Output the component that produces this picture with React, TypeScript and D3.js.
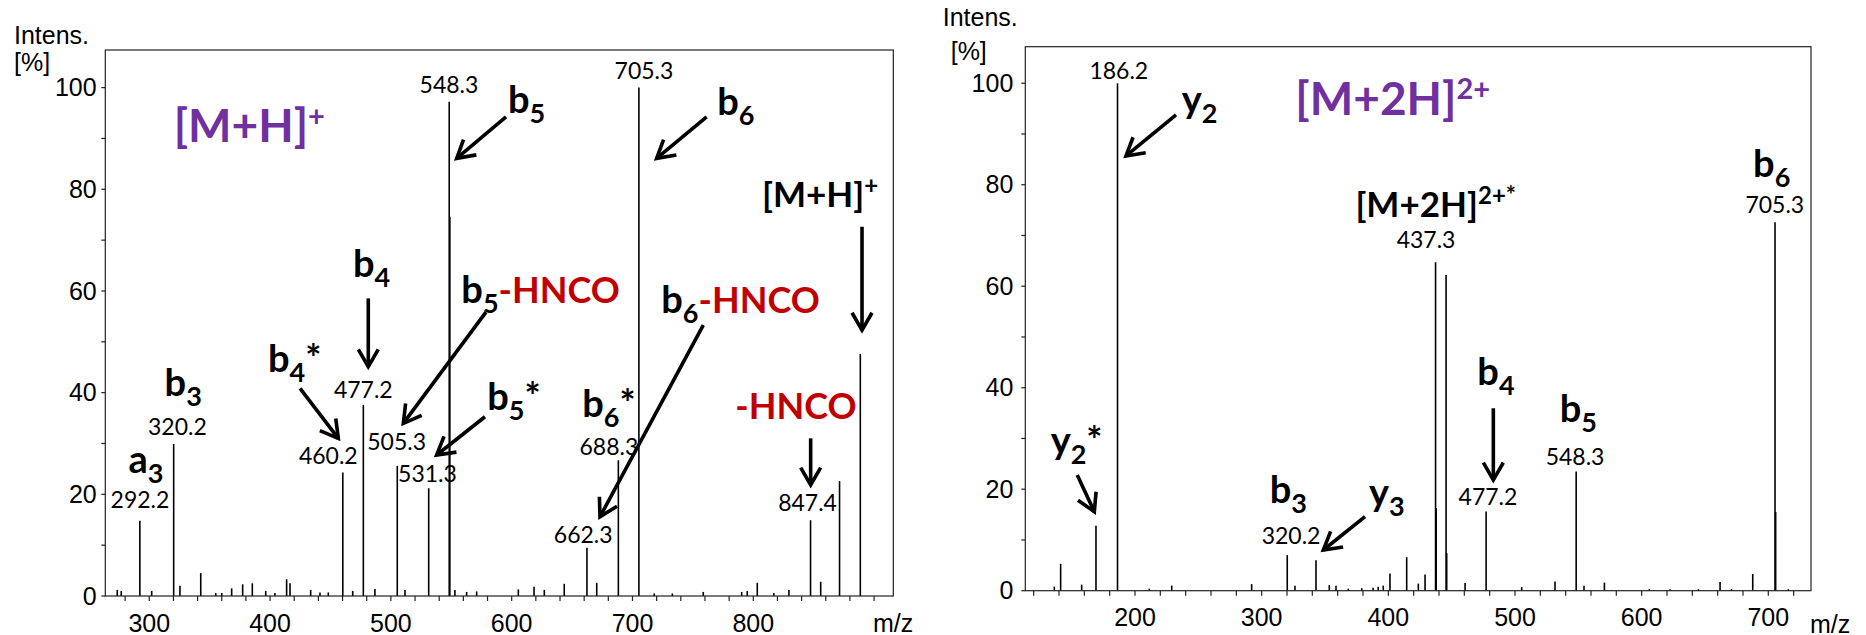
import React from 'react';
import * as d3 from 'd3';

type Peak = [number, number];
type Part = [string, string?, string?];
type IonLabel = { parts: Part[]; mz: number; v: number; kind: 'ion' | 'prec' | 'title' };
type ValueLabel = [string, number, number];
type Arrow = [number, number, number, number];

const PURPLE = '#7030A0';
const RED = '#C00000';

// ---- data: left spectrum ([M+H]+) ----
const leftPeaks: Peak[] = [
  [273.5, 1.2], [276.8, 1.0], [292.2, 14.8], [302.0, 1.0], [320.2, 29.9], [325.4, 2.0],
  [342.6, 4.5], [355.0, 0.6], [360.0, 0.6], [368.2, 1.5], [377.3, 2.3], [385.3, 2.5],
  [396.4, 1.0], [404.0, 0.6], [413.7, 3.3], [416.5, 2.5], [433.6, 1.2], [441.3, 0.7],
  [448.2, 0.7], [460.2, 24.3], [468.4, 1.0], [477.2, 37.6], [486.8, 1.4], [505.3, 25.6],
  [511.7, 1.2], [531.3, 21.2], [548.3, 97.2], [548.8, 74.6], [553.0, 1.2], [562.7, 0.8],
  [571.0, 0.9], [605.5, 1.3], [618.5, 1.8], [627.0, 1.2], [643.5, 2.4], [662.3, 9.5],
  [670.4, 2.6], [688.3, 26.7], [705.3, 100], [718.0, 0.5], [733.0, 0.5], [758.6, 0.8],
  [790.4, 0.8], [795.0, 1.0], [803.3, 2.6], [817.0, 0.6], [829.5, 1.2], [847.4, 14.9],
  [855.8, 2.8], [871.4, 22.6], [888.6, 47.6],
];

// ---- data: right spectrum ([M+2H]2+) ----
const rightPeaks: Peak[] = [
  [136.3, 0.8], [141.3, 5.3], [157.9, 1.2], [169.2, 12.8], [186.2, 100], [211.3, 0.4],
  [229.0, 1.0], [292.1, 1.3], [320.2, 7.0], [326.3, 1.0], [342.9, 6.0], [353.4, 1.1],
  [358.7, 1.0], [368.4, 0.4], [379.0, 0.5], [388.0, 0.6], [392.0, 0.8], [396.0, 1.0],
  [401.3, 3.4], [414.5, 6.6], [423.7, 1.4], [429.0, 3.2], [437.3, 64.7], [437.8, 16.3],
  [445.6, 62.2], [446.1, 7.4], [460.6, 1.5], [477.2, 15.6], [505.3, 0.7], [531.6, 1.8],
  [548.3, 23.5], [554.5, 1.0], [570.6, 1.6], [606.0, 0.3], [622.4, 0.3], [644.8, 0.3],
  [661.9, 1.7], [671.0, 0.3], [687.7, 3.3], [705.3, 72.6], [705.8, 15.5], [715.8, 0.3],
];

const leftXTicks = [300, 400, 500, 600, 700, 800];
const rightXTicks = [200, 300, 400, 500, 600, 700];
const yTickLabels = [0, 20, 40, 60, 80, 100];

const leftValueLabels: ValueLabel[] = [
  ['292.2', 292.3, 17.25], ['320.2', 323.3, 31.66], ['460.2', 448.2, 25.96],
  ['477.2', 477.2, 38.88], ['505.3', 504.8, 28.71], ['531.3', 530.3, 22.48],
  ['548.3', 548.1, 98.86], ['662.3', 659.2, 10.48], ['688.3', 680.5, 27.73],
  ['705.3', 709.5, 101.67], ['847.4', 844.9, 16.77],
];
const rightValueLabels: ValueLabel[] = [
  ['186.2', 187.2, 100.85], ['320.2', 323.2, 9.2], ['437.3', 429.8, 67.48],
  ['477.2', 478.7, 16.89], ['548.3', 547.4, 24.77], ['705.3', 705.1, 74.38],
];

const leftIonLabels: IonLabel[] = [
  { parts: [['a'], ['3', 's']], mz: 282.8, v: 24.1, kind: 'ion' },
  { parts: [['b'], ['3', 's']], mz: 312.7, v: 39.33, kind: 'ion' },
  { parts: [['b'], ['4', 's'], ['*']], mz: 398.3, v: 44.11, kind: 'ion' },
  { parts: [['b'], ['4', 's']], mz: 468.6, v: 62.79, kind: 'ion' },
  { parts: [['b'], ['5', 's']], mz: 596.9, v: 94.93, kind: 'ion' },
  { parts: [['b'], ['5', 's'], ['-HNCO', 'n', RED]], mz: 558.3, v: 57.56, kind: 'ion' },
  { parts: [['b'], ['5', 's'], ['*']], mz: 579.8, v: 36.58, kind: 'ion' },
  { parts: [['b'], ['6', 's']], mz: 770.2, v: 94.59, kind: 'ion' },
  { parts: [['b'], ['6', 's'], ['*']], mz: 658.4, v: 35.26, kind: 'ion' },
  { parts: [['b'], ['6', 's'], ['-HNCO', 'n', RED]], mz: 723.8, v: 55.6, kind: 'ion' },
  { parts: [['-HNCO', 'n', RED]], mz: 785.1, v: 34.75, kind: 'ion' },
  { parts: [['[M+H]'], ['+', 'p']], mz: 807.2, v: 76.56, kind: 'prec' },
  { parts: [['[M+H]', 'm', PURPLE], ['+', 'p', PURPLE]], mz: 320.2, v: 89.34, kind: 'title' },
];
const rightIonLabels: IonLabel[] = [
  { parts: [['y'], ['2', 's']], mz: 236.9, v: 94.15, kind: 'ion' },
  { parts: [['y'], ['2', 's'], ['*']], mz: 133.4, v: 26.84, kind: 'ion' },
  { parts: [['b'], ['3', 's']], mz: 306.4, v: 17.23, kind: 'ion' },
  { parts: [['y'], ['3', 's']], mz: 384.8, v: 16.69, kind: 'ion' },
  { parts: [['b'], ['4', 's']], mz: 470.3, v: 40.54, kind: 'ion' },
  { parts: [['b'], ['5', 's']], mz: 535.3, v: 33.31, kind: 'ion' },
  { parts: [['b'], ['6', 's']], mz: 688.0, v: 81.59, kind: 'ion' },
  { parts: [['[M+2H]'], ['2+*', 'p']], mz: 374.0, v: 73.71, kind: 'prec' },
  { parts: [['[M+2H]', 'm', PURPLE], ['2+', 'p', PURPLE]], mz: 326.6, v: 93.75, kind: 'title' },
];

const leftArrows: Arrow[] = [
  [595.3, 94.26, 554.5, 86.08], [761.4, 94.26, 720.0, 86.08], [890.0, 72.63, 890.0, 52.31],
  [578.7, 55.85, 510.3, 33.96], [481.3, 58.54, 481.3, 45.09], [424.8, 40.85, 456.5, 31.01],
  [577.9, 35.26, 537.9, 27.73], [758.6, 53.29, 673.1, 15.59], [847.5, 31.01, 847.5, 21.83],
];
const rightArrows: Arrow[] = [
  [232.4, 93.75, 192.9, 85.67], [154.4, 22.8, 167.9, 15.57], [381.6, 14.58, 348.7, 8.02],
  [482.9, 35.95, 482.9, 21.82],
];

const AX_FONT = '"Liberation Sans", Arial, sans-serif';
const ANN_FONT = 'Lato, "Open Sans", sans-serif';

const STYLES: Record<string, { size: number; alt: number; sub: number; sup: number; subShift: number; supShift: number }> = {
  ion: { size: 38, alt: 36, sub: 27, sup: 25, subShift: 10, supShift: 13 },
  prec: { size: 35, alt: 35, sub: 25, sup: 24, subShift: 10, supShift: 13 },
  title: { size: 46, alt: 46, sub: 30, sup: 29, subShift: 12, supShift: 16 },
};

function Rich({ x, y, parts, kind }: { x: number; y: number; parts: Part[]; kind: string }) {
  const st = STYLES[kind];
  let cur = 0;
  return (
    <text x={x} y={y} fontFamily={ANN_FONT} fontWeight={700} fontSize={st.size}>
      {parts.map((p, i) => {
        const k = p[1] || 'm';
        const target = k === 's' ? st.subShift : k === 'p' ? -st.supShift : 0;
        const dy = target - cur;
        cur = target;
        const fs = k === 's' ? st.sub : k === 'p' ? st.sup : k === 'n' ? st.alt : st.size;
        return (
          <tspan key={i} dy={dy} fontSize={fs} fill={p[2] || '#000'}>
            {p[0]}
          </tspan>
        );
      })}
    </text>
  );
}

function ArrowMark({ x1, y1, x2, y2 }: { x1: number; y1: number; x2: number; y2: number }) {
  const ang = Math.atan2(y1 - y2, x1 - x2);
  const L = 20;
  const a = (30 * Math.PI) / 180;
  const ax1 = x2 + L * Math.cos(ang + a);
  const ay1 = y2 + L * Math.sin(ang + a);
  const ax2 = x2 + L * Math.cos(ang - a);
  const ay2 = y2 + L * Math.sin(ang - a);
  return (
    <g stroke="#000" strokeWidth={3.6} fill="none" strokeLinejoin="miter">
      <line x1={x1} y1={y1} x2={x2} y2={y2} />
      <path d={`M${ax1},${ay1}L${x2},${y2}L${ax2},${ay2}`} />
    </g>
  );
}

type PanelProps = {
  peaks: Peak[];
  frame: { x0: number; x1: number; y0: number; y1: number };
  xDomain: [number, number];
  yMax: number;
  xTicks: number[];
  minorStart: number;
  valueLabels: ValueLabel[];
  ionLabels: IonLabel[];
  arrows: Arrow[];
  yLabelGap: number;
  xLabelOffset: number;
  intens: { x: number; y: number; x2: number; y2: number };
  mz: { x: number; y: number };
};

function Panel(p: PanelProps) {
  const { frame } = p;
  const x = d3.scaleLinear().domain(p.xDomain).range([frame.x0, frame.x1]);
  const y = d3.scaleLinear().domain([0, p.yMax]).range([frame.y1, frame.y0]);
  const minor = d3.range(p.minorStart, p.xDomain[1], 20);
  const yMinor = d3.range(0, 101, 10);
  return (
    <g>
      <g stroke="#000" strokeWidth={1.6}>
        {p.peaks.map(([m, v], i) => (
          <line key={i} x1={x(m)} x2={x(m)} y1={y(0)} y2={y(v)} />
        ))}
      </g>
      <rect x={frame.x0} y={frame.y0} width={frame.x1 - frame.x0} height={frame.y1 - frame.y0}
        fill="none" stroke="#222" strokeWidth={1.2} />
      <g stroke="#222" strokeWidth={1.2}>
        {yMinor.map((t) => (
          <line key={t} x1={frame.x0 - 4} x2={frame.x0} y1={y(t)} y2={y(t)} />
        ))}
        {minor.map((t) => (
          <line key={t} x1={x(t)} x2={x(t)} y1={frame.y1} y2={frame.y1 + 5} />
        ))}
      </g>
      <g fontFamily={AX_FONT} fontSize={25} fill="#000">
        {yTickLabels.map((t) => (
          <text key={t} x={frame.x0 - p.yLabelGap} y={y(t)} dy="0.35em" textAnchor="end">{t}</text>
        ))}
        {p.xTicks.map((t) => (
          <text key={t} x={x(t)} y={frame.y1 + p.xLabelOffset} textAnchor="middle">{t}</text>
        ))}
        <text x={p.intens.x} y={p.intens.y}>Intens.</text>
        <text x={p.intens.x2} y={p.intens.y2}>[%]</text>
        <text x={p.mz.x} y={p.mz.y}>m/z</text>
      </g>
      <g fontFamily={ANN_FONT} fontSize={23} fill="#000">
        {p.valueLabels.map(([t, m, v], i) => (
          <text key={i} x={x(m)} y={y(v)} textAnchor="middle">{t}</text>
        ))}
      </g>
      {p.arrows.map(([m1, v1, m2, v2], i) => (
        <ArrowMark key={i} x1={x(m1)} y1={y(v1)} x2={x(m2)} y2={y(v2)} />
      ))}
      {p.ionLabels.map((l, i) => (
        <Rich key={i} x={x(l.mz)} y={y(l.v)} parts={l.parts} kind={l.kind} />
      ))}
    </g>
  );
}

export default function App() {
  return (
    <svg width={1866} height={635} style={{ position: 'absolute', left: 0, top: 0, background: '#fff' }}>
      <rect width={1866} height={635} fill="#fff" />
      <Panel
        peaks={leftPeaks}
        frame={{ x0: 105.3, x1: 893.3, y0: 50, y1: 596 }}
        xDomain={[263.6, 915.9]}
        yMax={107.4}
        xTicks={leftXTicks}
        minorStart={280}
        valueLabels={leftValueLabels}
        ionLabels={leftIonLabels}
        arrows={leftArrows}
        yLabelGap={8.6}
        xLabelOffset={35.5}
        intens={{ x: 14, y: 44, x2: 14, y2: 71 }}
        mz={{ x: 873, y: 631.5 }}
      />
      <Panel
        peaks={rightPeaks}
        frame={{ x0: 1025.3, x1: 1811, y0: 46.7, y1: 590.7 }}
        xDomain={[113.4, 733.7]}
        yMax={107.2}
        xTicks={rightXTicks}
        minorStart={120}
        valueLabels={rightValueLabels}
        ionLabels={rightIonLabels}
        arrows={rightArrows}
        yLabelGap={12}
        xLabelOffset={35}
        intens={{ x: 942.7, y: 26, x2: 950.7, y2: 60 }}
        mz={{ x: 1810, y: 632.5 }}
      />
    </svg>
  );
}
